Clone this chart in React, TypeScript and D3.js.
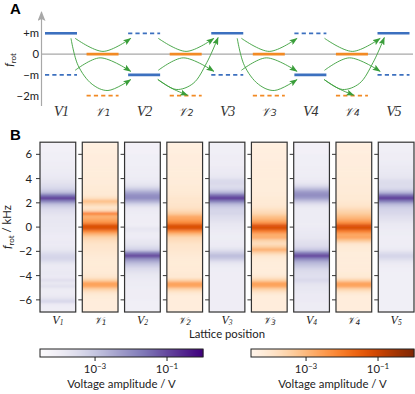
import React from 'react'
import * as d3 from 'd3'

const WIDTH = 415
const HEIGHT = 394
const FONT = 'Lato, "Open Sans", sans-serif'

// panel A
const levelTicks = [1, 0, -1, -2]
const levelLabels = ['+m', '0', '\u2212m', '\u22122m']
const siteNames = ['V', '\uD835\uDCB1', 'V', '\uD835\uDCB1', 'V', '\uD835\uDCB1', 'V', '\uD835\uDCB1', 'V']
const siteIndex = ['1', '1', '2', '2', '3', '3', '4', '4', '5']
// [position, level, solid]
const blueLevels: [number, number, boolean][] = [
  [0, 1, true], [0, -1, false], [2, 1, false], [2, -1, true], [4, 1, true], [4, -1, false],
  [6, 1, false], [6, -1, true], [8, 1, true], [8, -1, false],
]
const orangeLevels: [number, number, boolean][] = [
  [1, 0, true], [1, -2, false], [3, 0, true], [3, -2, false], [5, 0, true], [5, -2, false], [7, 0, true], [7, -2, false],
]
const upperCurve = [[0.34, 0.76], [1.01, 0.13], [1.68, 0.76]]
const lowerCurve = [[0.34, -0.78], [0.94, -0.18], [1.68, -0.83]]
const deepFromTop = [[0.24, 0.76], [0.41, -0.54], [0.75, -1.45], [1.13, -1.75], [1.68, -1.22]]
const shortToBottom = [[0.33, -1.22], [0.67, -1.65], [1.05, -1.98]]
const deepFromBottom = [[0.33, -1.22], [0.77, -1.7], [1.18, -1.41], [1.51, -0.4], [1.78, 0.8]]

// panel B, log10 of the voltage in rows of 0.25 kHz, from +7 kHz down to -7 kHz
const freqTicks = [6, 4, 2, 0, -2, -4, -6]
const columnV1 = [
  -4.1, -4.1, -4.1, -4.05, -4.05, -4.05, -4.0, -4.0, -3.95, -3.95, -3.9, -3.85, -3.75, -3.65, -3.5, -3.3,
  -2.9, -1.7, -0.8, -1.9, -2.9, -3.3, -3.55, -3.65, -3.75, -3.8, -3.8, -3.8, -3.85, -3.85, -3.9, -3.9,
  -3.9, -3.9, -3.85, -3.75, -3.5, -3.3, -3.3, -3.6, -3.85, -3.9, -3.85, -3.85, -3.9, -3.55, -3.85, -3.6,
  -3.95, -3.95, -3.9, -3.7, -3.35, -3.9, -4.0, -4.0,
]
const columnC1 = [
  -4.3, -4.3, -4.28, -4.28, -4.25, -4.25, -4.25, -4.25, -4.22, -4.22, -4.22, -4.2, -4.2, -4.2, -4.18, -4.15,
  -4.12, -4.1, -3.8, -3.1, -3.6, -4.0, -3.7, -2.1, -2.9, -2.7, -2.3, -1.25, -1.25, -2.2, -3.0, -3.5,
  -3.75, -3.9, -3.95, -4.0, -4.05, -4.1, -4.15, -4.15, -4.15, -4.15, -4.15, -4.1, -4.0, -3.5, -2.6, -2.7,
  -3.5, -3.95, -4.15, -4.2, -4.25, -4.25, -4.25, -4.25,
]
const columnV2 = [
  -4.1, -4.1, -4.1, -4.1, -4.05, -4.05, -4.05, -4.05, -4.0, -4.0, -4.0, -3.95, -3.9, -3.8, -3.6, -3.1,
  -2.5, -2.05, -2.0, -2.6, -3.3, -3.75, -3.9, -3.95, -4.0, -4.0, -4.0, -4.0, -3.75, -3.85, -3.95, -3.9,
  -3.8, -3.7, -3.5, -3.2, -1.75, -0.85, -1.95, -2.6, -3.05, -3.4, -3.6, -3.75, -3.85, -3.9, -3.95, -3.95,
  -4.0, -4.0, -4.0, -4.0, -4.05, -4.05, -4.05, -4.05,
]
const columnC2 = [
  -4.3, -4.3, -4.28, -4.28, -4.25, -4.25, -4.25, -4.25, -4.22, -4.22, -4.22, -4.2, -4.2, -4.2, -4.18, -4.15,
  -4.12, -4.08, -4.0, -4.0, -3.95, -3.9, -3.7, -3.4, -2.8, -2.6, -2.2, -1.25, -1.25, -2.3, -3.1, -3.6,
  -3.75, -3.9, -3.95, -4.0, -4.05, -4.1, -4.15, -4.15, -4.15, -4.15, -4.15, -4.1, -4.1, -3.55, -2.65, -2.7,
  -3.55, -4.0, -4.2, -4.25, -4.25, -4.25, -4.25, -4.25,
]
const columnV3 = [
  -4.05, -4.05, -4.05, -4.05, -4.0, -4.0, -4.0, -4.0, -3.9, -3.9, -3.85, -3.8, -3.45, -3.4, -3.5, -3.35,
  -2.8, -1.55, -0.8, -1.8, -2.8, -3.2, -3.35, -3.35, -3.5, -3.6, -3.7, -3.8, -3.85, -3.9, -3.95, -3.95,
  -3.95, -3.9, -3.85, -3.6, -3.15, -2.8, -3.1, -3.6, -3.85, -3.95, -4.0, -4.0, -4.0, -4.0, -4.0, -4.0,
  -4.0, -4.0, -4.0, -4.0, -4.0, -4.0, -4.0, -4.0,
]
const columnC3 = [
  -4.3, -4.3, -4.28, -4.28, -4.28, -4.28, -4.25, -4.25, -4.25, -4.25, -4.25, -4.25, -4.22, -4.22, -4.22, -4.22,
  -4.2, -4.2, -4.15, -4.12, -4.1, -4.0, -3.8, -3.6, -3.2, -2.9, -2.4, -1.3, -1.2, -2.1, -2.8, -2.8,
  -3.5, -3.75, -3.4, -2.8, -3.5, -4.0, -4.15, -4.2, -4.22, -4.22, -4.22, -4.2, -4.0, -3.5, -2.6, -2.7,
  -3.5, -3.95, -4.2, -4.25, -4.25, -4.25, -4.25, -4.25,
]
const columnV4 = [
  -4.1, -4.1, -4.1, -4.1, -4.05, -4.05, -4.05, -4.05, -4.0, -4.0, -4.0, -3.95, -3.9, -3.75, -3.4, -2.8,
  -2.2, -2.0, -2.3, -3.0, -3.6, -3.85, -3.95, -3.95, -3.95, -3.95, -3.95, -3.95, -3.9, -3.85, -3.8, -3.75,
  -3.65, -3.55, -3.4, -3.05, -1.75, -0.85, -1.85, -2.6, -2.95, -3.25, -3.45, -3.55, -3.6, -3.4, -3.65, -3.75,
  -3.8, -3.85, -3.9, -3.9, -3.9, -3.95, -3.95, -3.95,
]
const columnC4 = [
  -4.3, -4.28, -4.28, -4.28, -4.25, -4.25, -4.25, -4.25, -4.22, -4.22, -4.22, -4.2, -4.2, -4.2, -4.18, -4.18,
  -4.18, -4.12, -4.12, -4.05, -4.0, -3.85, -3.6, -3.4, -3.1, -2.8, -2.3, -1.3, -1.2, -2.1, -2.7, -2.65,
  -3.3, -3.95, -4.1, -4.15, -4.2, -4.2, -4.2, -4.2, -4.2, -4.2, -4.2, -4.15, -4.1, -3.55, -2.65, -2.7,
  -3.55, -4.0, -4.2, -4.25, -4.25, -4.25, -4.25, -4.25,
]
const columnV5 = [
  -4.05, -4.05, -4.05, -4.0, -4.0, -4.0, -3.95, -3.9, -3.85, -3.85, -3.8, -3.75, -3.55, -3.45, -3.5, -3.35,
  -2.8, -1.55, -0.8, -1.8, -2.8, -3.2, -3.35, -3.4, -3.55, -3.65, -3.75, -3.85, -3.9, -3.95, -3.95, -4.0,
  -4.0, -4.0, -3.95, -3.85, -3.5, -3.25, -3.5, -3.8, -3.95, -4.0, -4.05, -4.05, -4.05, -4.05, -4.05, -4.05,
  -4.05, -4.05, -4.05, -4.05, -4.05, -4.05, -4.05, -4.05,
]
const columns = [columnV1, columnC1, columnV2, columnC2, columnV3, columnC3, columnV4, columnC4, columnV5]

const colorTicks = [-3, -1]
const logMin = -4.53
const logMax = 0

const purple = d3.scaleSequential(d3.interpolatePurples).domain([logMin, logMax])
const orange = d3.scaleSequential(d3.interpolateOranges).domain([logMin, logMax])

const xSite = d3.scaleLinear().domain([0, 8]).range([61, 393.5])
const yLevel = d3.scaleLinear().domain([1, -2]).range([33.3, 95.7])
const yFreq = d3.scaleLinear().domain([7, -7]).range([142.2, 312])
const xPanel = d3.scaleBand<number>().domain(d3.range(9)).range([40, 414]).paddingInner(0.155)

const curve = d3.line<number[]>()
  .x(d => d[0])
  .y(d => d[1])
  .curve(d3.curveCatmullRom.alpha(0.5))

function shifted(points: number[][], offset: number) {
  return curve(points.map(p => [xSite(p[0] + offset), yLevel(p[1])])) as string
}

function Levels({ items, color }: { items: [number, number, boolean][]; color: string }) {
  return (
    <g>
      {items.map(([pos, level, solid], i) => (
        <line
          key={i}
          x1={xSite(pos) - 16}
          x2={xSite(pos) + 16}
          y1={yLevel(level)}
          y2={yLevel(level)}
          stroke={color}
          strokeWidth={solid ? 2.6 : 1.8}
          strokeDasharray={solid ? undefined : '4.2 3.1'}
        />
      ))}
    </g>
  )
}

function ColorBar({ x0, x1, scale }: { x0: number; x1: number; scale: (v: number) => string }) {
  const x = d3.scaleLinear().domain([logMin, logMax]).range([x0, x1])
  const steps = d3.range(x0, x1, 1)
  return (
    <g>
      {steps.map(px => (
        <rect key={px} x={px} y={349} width={1.4} height={8} fill={scale(x.invert(px + 0.5))} />
      ))}
      <rect x={x0} y={349} width={x1 - x0} height={8} fill="none" stroke="#222" strokeWidth={1} />
      {colorTicks.map(t => (
        <g key={t} transform={`translate(${x(t)},0)`}>
          <line y1={357} y2={361} stroke="#222" />
          <text y={373} textAnchor="middle" fontSize={11.3} fill="#222">
            10<tspan dy={-4} fontSize={8}>{`\u2212${Math.abs(t)}`}</tspan>
          </text>
        </g>
      ))}
      <text x={(x0 + x1) / 2} y={388} textAnchor="middle" fontSize={11.4} fill="#222">Voltage amplitude / V</text>
    </g>
  )
}

export default function App() {
  const rowH = yFreq(6.75) - yFreq(7)
  return (
    <svg width={WIDTH} height={HEIGHT} viewBox={`0 0 ${WIDTH} ${HEIGHT}`}
      style={{ position: 'absolute', left: 0, top: 0, fontFamily: FONT }}>
      <defs>
        <marker id="head" viewBox="0 0 8 6" refX="7.5" refY="3" markerWidth="8" markerHeight="6"
          markerUnits="userSpaceOnUse" orient="auto">
          <path d="M0,0L8,3L0,6L1.5,3Z" fill="#3a9e3a" />
        </marker>
        <marker id="axisHead" viewBox="0 0 8 10" refX="4" refY="1" markerWidth="8" markerHeight="10"
          markerUnits="userSpaceOnUse" orient="0">
          <path d="M4,0L8,10L4,8L0,10Z" fill="#a8a8a8" />
        </marker>
        <filter id="soft" x="0" y="0" width="1" height="1">
          <feGaussianBlur stdDeviation="0 0.9" edgeMode="duplicate" />
        </filter>
      </defs>

      {/* Panel A */}
      <text x={10} y={14} fontSize={15} fontWeight={700} fontFamily="Liberation Sans">A</text>
      <line x1={41.5} x2={41.5} y1={106} y2={12} stroke="#a8a8a8" strokeWidth={1.2} markerEnd="url(#axisHead)" />
      <line x1={41.5} x2={413} y1={yLevel(0)} y2={yLevel(0)} stroke="#a8a8a8" strokeWidth={1.2} />
      {levelTicks.map((t, i) => (
        <text key={t} x={39} y={yLevel(t) + 3.8} textAnchor="end" fontSize={11.3} fill="#222">{levelLabels[i]}</text>
      ))}
      <text transform="translate(13,60) rotate(-90)" textAnchor="middle" fontSize={11.3} fill="#222">
        <tspan fontStyle="italic">f</tspan><tspan dy={2.5} fontSize={8}>rot</tspan>
      </text>
      <Levels items={blueLevels} color="#3c70bf" />
      <Levels items={orangeLevels} color="#f28a24" />
      <g fill="none" stroke="#3a9e3a" strokeWidth={0.9}>
        {[0, 2, 4, 6].map(offset => (
          <g key={offset}>
            <path d={shifted(upperCurve, offset)} markerEnd="url(#head)" />
            <path d={shifted(lowerCurve, offset)} markerEnd="url(#head)" />
          </g>
        ))}
        {[0, 4].map(offset => (
          <path key={offset} d={shifted(deepFromTop, offset)} markerEnd="url(#head)" />
        ))}
        {[2, 6].map(offset => (
          <g key={offset}>
            <path d={shifted(shortToBottom, offset)} markerEnd="url(#head)" />
            <path d={shifted(deepFromBottom, offset)} markerEnd="url(#head)" />
          </g>
        ))}
      </g>
      {siteNames.map((name, i) => (
        <text key={i} x={xSite(i)} y={116} textAnchor="middle" fill="#333"
          fontFamily={i % 2 ? '"DejaVu Sans", sans-serif' : '"Liberation Serif", serif'}
          fontStyle="italic" fontSize={i % 2 ? 12 : 15} letterSpacing={i % 2 ? 0 : -0.8}>
          {name}<tspan fontSize={i % 2 ? 9 : 14}>{siteIndex[i]}</tspan>
        </text>
      ))}

      {/* Panel B */}
      <text x={10} y={140} fontSize={15} fontWeight={700} fontFamily="Liberation Sans">B</text>
      {columns.map((values, c) => {
        const x = xPanel(c) as number
        const w = xPanel.bandwidth()
        const color = c % 2 ? orange : purple
        return (
          <g key={c}>
            <g filter="url(#soft)">
              {values.map((v, r) => (
                <rect key={r} x={x} y={yFreq(7 - r * 0.25)} width={w} height={rowH + 0.4} fill={color(v)} />
              ))}
            </g>
            <rect x={x} y={yFreq(7)} width={w} height={yFreq(-7) - yFreq(7)} fill="none" stroke="#333" strokeWidth={1.2} />
            {freqTicks.map(t => (
              <line key={t} x1={x - 4} x2={x} y1={yFreq(t)} y2={yFreq(t)} stroke="#333" strokeWidth={1} />
            ))}
            <text x={x + w / 2} y={323.5} textAnchor="middle" fill="#222"
              fontFamily={c % 2 ? '"DejaVu Sans", sans-serif' : '"Liberation Serif", serif'}
              fontStyle="italic" fontSize={c % 2 ? 10 : 12}>
              {siteNames[c]}<tspan dy={1.5} fontSize={7.5}>{siteIndex[c]}</tspan>
            </text>
          </g>
        )
      })}
      {freqTicks.map(t => (
        <text key={t} x={32} y={yFreq(t) + 4} textAnchor="end" fontSize={11.3} fill="#222">
          {t < 0 ? `\u2212${-t}` : t}
        </text>
      ))}
      <text transform={`translate(11,${yFreq(0)}) rotate(-90)`} textAnchor="middle" fontSize={11.3} fill="#222">
        <tspan fontStyle="italic">f</tspan><tspan dy={2.5} fontSize={8}>rot</tspan><tspan dy={-2.5}> / kHz</tspan>
      </text>
      <text x={227} y={337.5} textAnchor="middle" fontSize={11.3} fill="#222">Lattice position</text>

      <ColorBar x0={40} x1={203} scale={purple} />
      <ColorBar x0={251} x1={414} scale={orange} />
    </svg>
  )
}
